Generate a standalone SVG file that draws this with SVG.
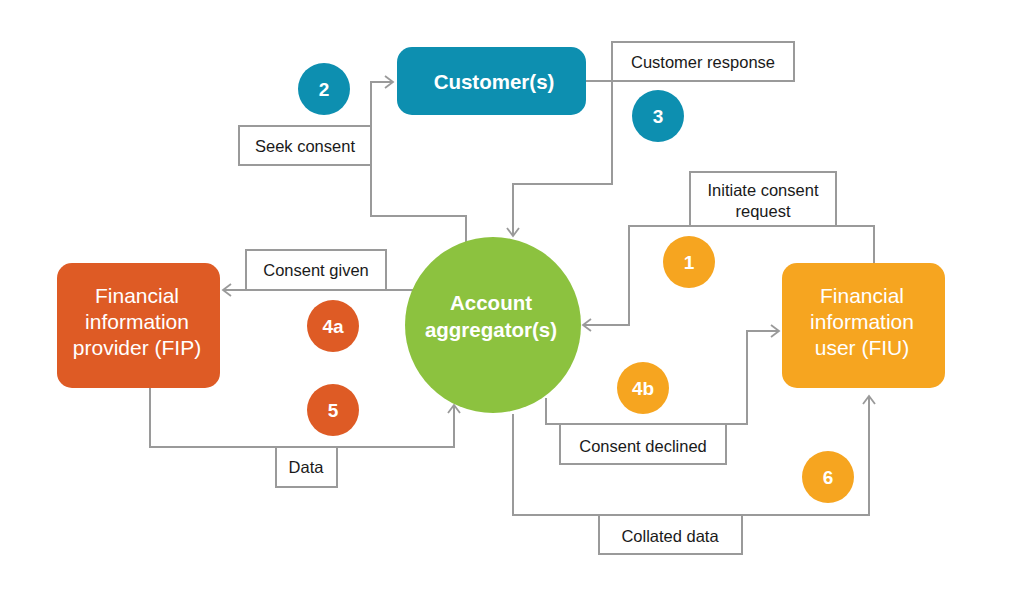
<svg xmlns="http://www.w3.org/2000/svg" width="1017" height="593" viewBox="0 0 1017 593">
<style>
.conn{fill:none;stroke:#9a9a9a;stroke-width:2}
.lbl{fill:#fff;stroke:#9a9a9a;stroke-width:2}
.lt{font-family:"Liberation Sans",Arial,sans-serif;font-size:16.5px;fill:#1a1a1a;text-anchor:middle}
.nt{font-family:"Liberation Sans",Arial,sans-serif;fill:#fff;text-anchor:middle}
.num{font-family:"Liberation Sans",Arial,sans-serif;font-size:19px;font-weight:bold;fill:#fff;text-anchor:middle}
.teal{fill:#0d8fb0}
.orange{fill:#f6a520}
.red{fill:#de5b25}
</style>
<defs>
<marker id="arr" markerUnits="userSpaceOnUse" markerWidth="12" markerHeight="14" refX="10" refY="7" orient="auto">
<path d="M2,1 L10,7 L2,13" fill="none" stroke="#9a9a9a" stroke-width="1.8"/>
</marker>
</defs>
<rect width="1017" height="593" fill="#fff"/>
<g id="connectors">
<path class="conn" d="M466,242 V216 H371 V82 H393" marker-end="url(#arr)"/>
<path class="conn" d="M586,81 H612 V184 H513 V236" marker-end="url(#arr)"/>
<path class="conn" d="M874,263 V226 H629 V325 H583" marker-end="url(#arr)"/>
<path class="conn" d="M414,290 H223" marker-end="url(#arr)"/>
<path class="conn" d="M150,388 V447 H454 V405" marker-end="url(#arr)"/>
<path class="conn" d="M546,398 V424 H747 V331 H779" marker-end="url(#arr)"/>
<path class="conn" d="M513,414 V515 H869 V396" marker-end="url(#arr)"/>
</g>
<g id="labels">
<g id="lbl-seek"><rect class="lbl" x="239" y="126" width="132" height="39"/><text class="lt" x="305" y="152">Seek consent</text></g>
<g id="lbl-response"><rect class="lbl" x="612" y="42" width="182" height="39"/><text class="lt" x="703" y="68">Customer response</text></g>
<g id="lbl-initiate"><rect class="lbl" x="690" y="172" width="146" height="54"/><text class="lt" x="763" y="196">Initiate consent</text><text class="lt" x="763" y="217">request</text></g>
<g id="lbl-given"><rect class="lbl" x="246" y="250" width="140" height="40"/><text class="lt" x="316" y="276">Consent given</text></g>
<g id="lbl-data"><rect class="lbl" x="276" y="447" width="61" height="40"/><text class="lt" x="306" y="473">Data</text></g>
<g id="lbl-declined"><rect class="lbl" x="560" y="424" width="166" height="40"/><text class="lt" x="643" y="452">Consent declined</text></g>
<g id="lbl-collated"><rect class="lbl" x="599" y="515" width="143" height="39"/><text class="lt" x="670" y="542">Collated data</text></g>
</g>
<g id="customer"><rect class="teal" x="397" y="47" width="189" height="68" rx="15"/><text class="nt" x="494" y="89" font-size="20.5" font-weight="bold">Customer(s)</text></g>
<g id="aggregator"><circle cx="493" cy="325" r="88" fill="#8cc23f"/><text class="nt" x="491" y="310" font-size="20.5" font-weight="bold">Account</text><text class="nt" x="491" y="337" font-size="20.5" font-weight="bold">aggregator(s)</text></g>
<g id="fip"><rect class="red" x="57" y="263" width="163" height="125" rx="15"/><text class="nt" x="137" y="303" font-size="21">Financial</text><text class="nt" x="137" y="329" font-size="21">information</text><text class="nt" x="137" y="355" font-size="21">provider (FIP)</text></g>
<g id="fiu"><rect class="orange" x="782" y="263" width="163" height="125" rx="15"/><text class="nt" x="862" y="303" font-size="21">Financial</text><text class="nt" x="862" y="329" font-size="21">information</text><text class="nt" x="862" y="355" font-size="21">user (FIU)</text></g>
<g id="step-1"><circle class="orange" cx="689" cy="262" r="26"/><text class="num" x="689" y="269">1</text></g>
<g id="step-2"><circle class="teal" cx="324" cy="89" r="26"/><text class="num" x="324" y="96">2</text></g>
<g id="step-3"><circle class="teal" cx="658" cy="116" r="26"/><text class="num" x="658" y="123">3</text></g>
<g id="step-4a"><circle class="red" cx="333" cy="326" r="26"/><text class="num" x="333" y="333">4a</text></g>
<g id="step-4b"><circle class="orange" cx="643" cy="388" r="26"/><text class="num" x="643" y="395">4b</text></g>
<g id="step-5"><circle class="red" cx="333" cy="410" r="26"/><text class="num" x="333" y="417">5</text></g>
<g id="step-6"><circle class="orange" cx="828" cy="477" r="26"/><text class="num" x="828" y="484">6</text></g>
</svg>
